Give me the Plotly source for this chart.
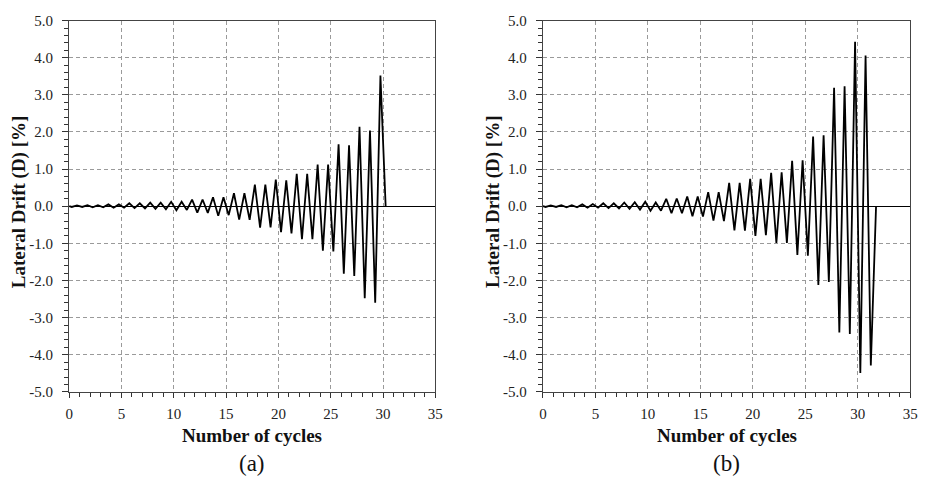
import plotly.graph_objects as go

# ---------------- data ----------------
# Panel (a): troughs at cycle k+0.25, peaks at k+0.75
troughs_a = [-0.02, -0.02, -0.03, -0.03, -0.04, -0.04, -0.05, -0.06, -0.07, -0.08,
             -0.11, -0.10, -0.17, -0.18, -0.26, -0.24, -0.36, -0.365, -0.58, -0.57,
             -0.70, -0.73, -0.89, -0.89, -1.20, -1.22, -1.82, -1.88, -2.48, -2.60]
peaks_a = [0.02, 0.03, 0.03, 0.05, 0.05, 0.08, 0.08, 0.095, 0.095, 0.12,
           0.12, 0.18, 0.18, 0.24, 0.24, 0.35, 0.35, 0.58, 0.58, 0.72,
           0.70, 0.875, 0.87, 1.12, 1.12, 1.67, 1.64, 2.14, 2.04, 3.52]
end_cycle_a = 30.25

# Panel (b)
troughs_b = [-0.02, -0.02, -0.03, -0.03, -0.04, -0.04, -0.05, -0.06, -0.07, -0.09,
             -0.12, -0.12, -0.19, -0.19, -0.27, -0.28, -0.39, -0.40, -0.65, -0.66,
             -0.80, -0.78, -0.99, -0.99, -1.31, -1.33, -2.12, -2.04, -3.40, -3.44,
             -4.49, -4.29]
peaks_b = [0.02, 0.03, 0.03, 0.05, 0.06, 0.08, 0.08, 0.10, 0.11, 0.12,
           0.10, 0.20, 0.21, 0.26, 0.26, 0.38, 0.38, 0.63, 0.63, 0.74,
           0.74, 0.90, 0.91, 1.22, 1.24, 1.88, 1.91, 3.19, 3.23, 4.43,
           4.06]
end_cycle_b = 31.75

x_tick_vals = [0, 5, 10, 15, 20, 25, 30, 35]
y_tick_vals = [-5, -4, -3, -2, -1, 0, 1, 2, 3, 4, 5]
y_tick_labels = ["-5.0", "-4.0", "-3.0", "-2.0", "-1.0", "0.0", "1.0", "2.0", "3.0", "4.0", "5.0"]
x_title = "Number of cycles"
y_title = "Lateral Drift (D) [%]"
panel_labels = ["(a)", "(b)"]


def build_series(troughs, peaks, end_cycle):
    xs, ys = [0.0], [0.0]
    n = max(len(troughs), len(peaks))
    for k in range(n):
        if k < len(troughs):
            xs.append(k + 0.25)
            ys.append(troughs[k])
        if k < len(peaks):
            xs.append(k + 0.75)
            ys.append(peaks[k])
    xs.append(end_cycle)
    ys.append(0.0)
    return xs, ys


xa, ya = build_series(troughs_a, peaks_a, end_cycle_a)
xb, yb = build_series(troughs_b, peaks_b, end_cycle_b)

FONT = "Liberation Serif"
W, H = 930, 484

fig = go.Figure()
fig.add_trace(go.Scatter(x=xa, y=ya, mode="lines", line=dict(color="black", width=1.8),
                         xaxis="x", yaxis="y", showlegend=False))
fig.add_trace(go.Scatter(x=xb, y=yb, mode="lines", line=dict(color="black", width=1.8),
                         xaxis="x2", yaxis="y2", showlegend=False))

plots = [(66, 437), (546, 918)]
top, bottom = 13, 397
ydom = [1 - bottom / H, 1 - top / H]

grid = dict(showgrid=True, gridcolor="#9a9a9a", griddash="4px,3px", gridwidth=1)
axis_line = dict(showline=True, linecolor="#444", linewidth=1.3, mirror=True)

for i, (l, r) in enumerate(plots):
    sfx = "" if i == 0 else str(i + 1)
    xdom = [l / W, r / W]
    fig.layout["xaxis" + sfx] = dict(
        domain=xdom, anchor="y" + sfx, range=[0, 35], tickvals=x_tick_vals,
        ticks="outside", ticklen=5, tickcolor="#333", zeroline=False,
        ticklabelstandoff=3,
        minor=dict(ticks="outside", dtick=1, ticklen=4, tickcolor="#333", showgrid=False),
        tickfont=dict(family=FONT, size=15, color="#222"),
        **grid, **axis_line)
    fig.layout["yaxis" + sfx] = dict(
        domain=ydom, anchor="x" + sfx, range=[-5, 5], tickvals=y_tick_vals,
        ticktext=y_tick_labels, ticks="outside", ticklen=6, tickcolor="#333",
        ticklabelstandoff=6,
        zeroline=True, zerolinecolor="black", zerolinewidth=1.2,
        minor=dict(ticks="outside", dtick=0.2, ticklen=4, tickcolor="#333", showgrid=False),
        tickfont=dict(family=FONT, size=15, color="#222"),
        **grid, **axis_line)
    cx = (l + r) / 2 / W
    fig.add_annotation(text="<b>" + x_title + "</b>", x=cx, y=1 - 442 / H, xref="paper", yref="paper",
                       showarrow=False, font=dict(family=FONT, size=19, color="#111"),
                       xanchor="center", yanchor="middle")
    fig.add_annotation(text=panel_labels[i], x=cx, y=1 - 471 / H, xref="paper", yref="paper",
                       showarrow=False, font=dict(family=FONT, size=23, color="#111"),
                       xanchor="center", yanchor="middle")
    fig.add_annotation(text="<b>" + y_title + "</b>", x=(l - 50) / W, y=1 - 200 / H,
                       xref="paper", yref="paper", textangle=-90,
                       showarrow=False, font=dict(family=FONT, size=19, color="#111"),
                       xanchor="center", yanchor="middle")

fig.update_layout(width=W, height=H, margin=dict(l=0, r=0, t=0, b=0),
                  paper_bgcolor="white", plot_bgcolor="white", showlegend=False)

fig.write_html("out.html")
